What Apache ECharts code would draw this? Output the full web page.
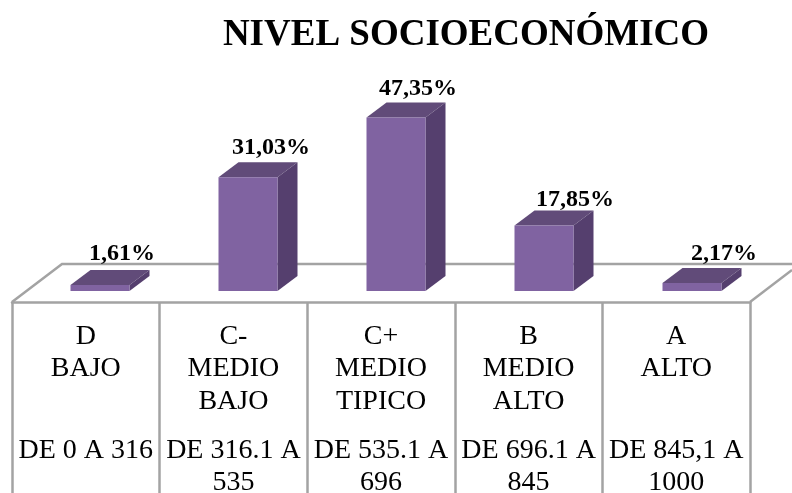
<!DOCTYPE html>
<html><head><meta charset="utf-8">
<style>html,body{margin:0;padding:0;background:#fff}#c{width:792px;height:493px}</style>
<script src="https://cdn.jsdelivr.net/npm/echarts@6/dist/echarts.min.js"></script>
</head><body><div id="c"></div>
<script>
const titleText = 'NIVEL SOCIOECONÓMICO';
const categories = ['D', 'C-', 'C+', 'B', 'A'];
const levels = ['D\nBAJO', 'C-\nMEDIO\nBAJO', 'C+\nMEDIO\nTIPICO', 'B\nMEDIO\nALTO', 'A\nALTO'];
const ranges = ['DE 0 A 316', 'DE 316.1 A\n535', 'DE 535.1 A\n696', 'DE 696.1 A\n845', 'DE 845,1 A\n1000'];
const values = [1.61, 31.03, 47.35, 17.85, 2.17];
const valueLabels = ['1,61%', '31,03%', '47,35%', '17,85%', '2,17%'];

const FONT = '"Liberation Serif"';
const FRONT = '#8063a1', TOP = '#614b79', SIDE = '#553f6e', LINE = '#a3a3a3';
const BAR_W = 59, DX = 20, DY = 15;
// label nudges relative to the bar's top-front edge, as placed in the reference
const labelDx = [22, 23, 22, 31, 32];
const labelDy = [-31, -29, -29, -26, -29];

function renderBar(params, api) {
  const i = api.value(0);
  const top = api.coord([i, api.value(1)]);
  const base = api.coord([i, 0]);
  const l = top[0] - BAR_W / 2, r = top[0] + BAR_W / 2, t = top[1], b = base[1];
  return {
    type: 'group',
    children: [
      { type: 'polygon', shape: { points: [[l, t], [l + DX, t - DY], [r + DX, t - DY], [r, t]] }, style: { fill: TOP } },
      { type: 'polygon', shape: { points: [[r, t], [r + DX, t - DY], [r + DX, b - DY], [r, b]] }, style: { fill: SIDE } },
      { type: 'rect', shape: { x: l, y: t, width: BAR_W, height: b - t }, style: { fill: FRONT } },
      { type: 'text', style: { x: top[0] + labelDx[i], y: t + labelDy[i], text: valueLabels[i], fill: '#000', font: 'bold 24px ' + FONT, align: 'center', verticalAlign: 'middle' } }
    ]
  };
}

const labelAxis = (data, margin) => ({
  type: 'category', gridIndex: 1, position: 'top', data,
  axisLine: { show: false, onZero: false }, axisTick: { show: false }, splitLine: { show: false },
  axisLabel: { inside: true, interval: 0, margin, color: '#000', fontFamily: FONT, fontSize: 28, lineHeight: 32.5, verticalAlign: 'top', align: 'center' }
});

const chart = echarts.init(document.getElementById('c'), null, { renderer: 'canvas' });
chart.setOption({
  animation: false,
  backgroundColor: '#fff',
  title: { text: titleText, left: 461, top: 12, textAlign: 'center', textStyle: { fontFamily: FONT, fontWeight: 'bold', fontSize: 37, color: '#000' } },
  grid: [
    { left: 26, top: 71, width: 740, height: 220, outerBoundsMode: 'none' },
    { left: 12, top: 302, width: 738, height: 191, outerBoundsMode: 'none' }
  ],
  xAxis: [
    { type: 'category', gridIndex: 0, data: categories, axisLine: { show: false }, axisTick: { show: false }, axisLabel: { show: false } },
    { type: 'category', gridIndex: 1, position: 'top', data: categories,
      axisLine: { show: true, onZero: false, lineStyle: { color: LINE, width: 2.5 } }, axisTick: { show: false }, axisLabel: { show: false },
      splitLine: { show: true, interval: 0, lineStyle: { color: LINE, width: 2.5 } } },
    labelAxis(levels, 18),
    labelAxis(ranges, 132)
  ],
  yAxis: [
    { type: 'value', gridIndex: 0, min: 0, max: 60, show: false },
    { type: 'value', gridIndex: 1, min: 0, max: 1, show: false }
  ],
  graphic: [
    { type: 'polyline', z: -1, silent: true, shape: { points: [[12, 302], [62, 264], [792, 264]] }, style: { stroke: LINE, lineWidth: 2.5, fill: null } },
    { type: 'polyline', z: -1, silent: true, shape: { points: [[750, 302], [792, 270]] }, style: { stroke: LINE, lineWidth: 2.5, fill: null } }
  ],
  series: [{
    type: 'custom', xAxisIndex: 0, yAxisIndex: 0, z: 5, clip: false,
    renderItem: renderBar,
    encode: { x: 0, y: 1 },
    data: values.map((v, i) => [i, v])
  }]
});
</script></body></html>
